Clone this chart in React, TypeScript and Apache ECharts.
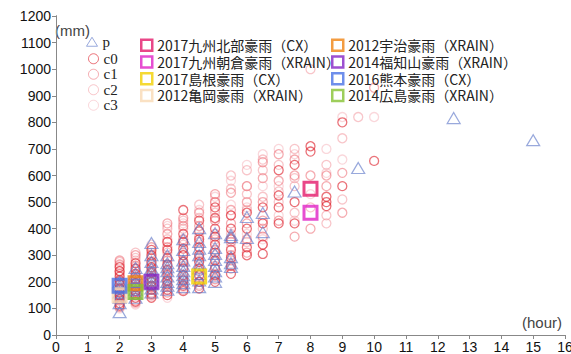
import React, { useEffect, useRef } from 'react';
import * as echarts from 'echarts';

// Columns: [hour, [mm values...]]
const pCols: [number, number[]][] = [
  [2, [86, 120, 140, 160, 175, 185, 200]],
  [2.5, [140, 155, 170, 185, 200, 215, 230, 252]],
  [3, [160, 175, 190, 205, 220, 235, 250, 275, 300, 346]],
  [3.5, [170, 185, 200, 220, 240, 255, 270, 300]],
  [4, [180, 195, 210, 225, 240, 260, 280, 320, 360]],
  [4.5, [180, 205, 230, 250, 270, 300, 325, 350, 402]],
  [5, [200, 220, 240, 260, 282, 305, 327, 383]],
  [5.5, [256, 270, 293, 368, 376]],
  [6, [365, 444]],
  [6.5, [387, 459]],
  [7.5, [540]],
  [9.5, [628]],
  [12.5, [816]],
  [15, [733]],
];
const c0Cols: [number, number[]][] = [
  [2, [110, 120, 135, 150, 160, 175, 190, 205, 220, 240, 255]],
  [2.5, [125, 140, 150, 165, 180, 195, 210, 230, 250, 270]],
  [3, [140, 155, 170, 185, 200, 215, 235, 255, 275, 300, 320]],
  [3.5, [150, 170, 190, 205, 225, 245, 265, 290, 320, 350]],
  [4, [165, 185, 205, 225, 250, 275, 300, 325, 350, 380, 470]],
  [4.5, [175, 200, 225, 250, 275, 300, 330, 360, 390, 430]],
  [5, [200, 225, 250, 280, 310, 340, 370, 400, 440, 480]],
  [5.5, [230, 260, 290, 320, 360, 400, 450]],
  [6, [300, 330, 400, 460]],
  [6.5, [305, 340, 420, 480]],
  [7, [420, 480, 525, 620]],
  [7.5, [420, 500, 640]],
  [8, [690, 710]],
  [8.5, [485, 500, 520]],
  [9, [560, 800]],
  [10, [655]],
];
const c1Cols: [number, number[]][] = [
  [2, [105, 130, 145, 170, 200, 230, 265, 280]],
  [2.5, [130, 160, 190, 220, 260, 300]],
  [3, [150, 180, 210, 250, 290, 330]],
  [3.5, [160, 200, 240, 280, 330, 380, 420]],
  [4, [170, 210, 260, 310, 360, 410, 440]],
  [4.5, [185, 240, 290, 350, 410, 460]],
  [5, [210, 260, 320, 380, 430, 500, 530]],
  [5.5, [250, 300, 350, 420, 470, 535]],
  [6, [310, 360, 420, 500, 560]],
  [6.5, [370, 430, 500, 590, 650]],
  [7, [430, 580, 680]],
  [7.5, [370, 600, 660]],
  [8, [400, 600]],
  [8.5, [560, 600]],
  [9, [460, 610]],
  [10, [930]],
];
const c2Cols: [number, number[]][] = [
  [2, [115, 150, 190, 240, 275]],
  [2.5, [120, 180, 240, 290, 310]],
  [3, [160, 230, 270, 310]],
  [3.5, [180, 260, 310, 360, 400]],
  [4, [190, 280, 340, 400, 430]],
  [4.5, [200, 280, 370, 440, 490]],
  [5, [230, 300, 360, 460, 500]],
  [5.5, [280, 380, 450, 550, 600]],
  [6, [350, 470, 530, 620]],
  [6.5, [340, 400, 520, 620, 660]],
  [7, [500, 540, 640]],
  [7.5, [460, 560, 590, 700]],
  [8, [480, 1000]],
  [8.5, [420, 450, 640]],
  [9, [510, 740]],
  [9.5, [820]],
];
const c3Cols: [number, number[]][] = [
  [2, [100, 140, 210, 260]],
  [2.5, [115, 200, 280]],
  [3, [145, 240, 340]],
  [3.5, [140, 230, 350, 410]],
  [4, [180, 300, 420]],
  [4.5, [190, 320, 470]],
  [5, [220, 350, 470, 520]],
  [5.5, [270, 330, 490, 580]],
  [6, [380, 480, 560, 640]],
  [6.5, [360, 450, 560, 680]],
  [7, [450, 560, 700]],
  [7.5, [430, 680]],
  [8, [530]],
  [8.5, [610, 700]],
  [9, [660, 820]],
  [10, [820]],
];

const eventNames = [
  '2017九州北部豪雨（CX）',
  '2017九州朝倉豪雨（XRAIN）',
  '2017島根豪雨（CX）',
  '2012亀岡豪雨（XRAIN）',
  '2012宇治豪雨（XRAIN）',
  '2014福知山豪雨（XRAIN）',
  '2016熊本豪雨（CX）',
  '2014広島豪雨（XRAIN）',
];
const eventPoints: [number, number][] = [
  [8, 550],
  [8, 460],
  [4.5, 220],
  [2, 150],
  [2.5, 195],
  [3, 200],
  [2, 185],
  [2.5, 162],
];
const eventColors = ['#e3196a', '#e022c6', '#f2d000', '#f9d9b4', '#f08312', '#8424c4', '#4a72e6', '#86c232'];

const xTicks = { min: 0, max: 16, interval: 1 };
const yTicks = { min: 0, max: 1200, interval: 100 };

const flat = (cols: [number, number[]][]) => cols.flatMap(([x, ys]) => ys.map((y) => [x, y]));

export default function App() {
  const ref = useRef<HTMLDivElement>(null);
  useEffect(() => {
    const chart = echarts.init(ref.current!, null, { renderer: 'svg' });
    const circle = (name: string, cols: [number, number[]][], color: string) => ({
      name,
      type: 'scatter',
      symbol: 'circle',
      symbolSize: 9,
      data: flat(cols),
      itemStyle: { color: 'rgba(0,0,0,0)', borderColor: color, borderWidth: 1.3 },
    });
    const series: any[] = [
      circle('c3', c3Cols, 'rgba(244,165,172,0.55)'),
      circle('c2', c2Cols, 'rgba(240,135,145,0.6)'),
      circle('c1', c1Cols, 'rgba(236,95,105,0.65)'),
      circle('c0', c0Cols, 'rgba(222,35,45,0.8)'),
      {
        name: 'p',
        type: 'scatter',
        symbol: 'triangle',
        symbolSize: [13, 11],
        data: flat(pCols),
        itemStyle: { color: 'rgba(0,0,0,0)', borderColor: 'rgba(95,120,200,0.8)', borderWidth: 1.2 },
      },
      ...eventNames.map((name, i) => ({
        name,
        type: 'scatter',
        symbol: 'rect',
        symbolSize: 13,
        data: [eventPoints[i]],
        itemStyle: { color: 'rgba(0,0,0,0)', borderColor: eventColors[i], borderWidth: 3 },
        z: 5,
      })),
    ];
    const cjk = '"Noto Sans CJK JP", sans-serif';
    const axisFont = '"Liberation Sans", Arial';
    chart.setOption({
      animation: false,
      backgroundColor: '#fff',
      grid: { left: 56, right: 6, top: 16, bottom: 19, containLabel: false, outerBoundsMode: 'none' },
      xAxis: [
        {
          type: 'value',
          ...xTicks,
          position: 'bottom',
          axisLine: { show: true, lineStyle: { color: '#666', width: 1 } },
          axisTick: { show: true, length: 4, lineStyle: { color: '#666' } },
          axisLabel: { color: '#111', fontSize: 14, fontFamily: axisFont, margin: 5, formatter: (v: number) => String(v) },
          splitLine: { show: false },
        },
        {
          type: 'value',
          ...xTicks,
          position: 'top',
          axisLine: { show: true, lineStyle: { color: '#888', width: 1 } },
          axisTick: { show: true, inside: true, length: 4, lineStyle: { color: '#888' } },
          axisLabel: { show: false },
          splitLine: { show: false },
        },
      ],
      yAxis: [
        {
          type: 'value',
          ...yTicks,
          position: 'left',
          axisLine: { show: true, lineStyle: { color: '#666', width: 1 } },
          axisTick: { show: true, length: 4, lineStyle: { color: '#666' } },
          axisLabel: { color: '#111', fontSize: 14, fontFamily: axisFont, margin: 5, formatter: (v: number) => String(v) },
          splitLine: { show: false },
        },
        {
          type: 'value',
          ...yTicks,
          position: 'right',
          axisLine: { show: true, lineStyle: { color: '#888', width: 1 } },
          axisTick: { show: true, inside: true, length: 4, lineStyle: { color: '#888' } },
          axisLabel: { show: false },
          splitLine: { show: false },
        },
      ],
      legend: [
        {
          data: ['p'],
          orient: 'vertical',
          left: 86,
          top: 34,
          padding: 0,
          itemWidth: 11,
          itemHeight: 9,
          itemGap: 0,
          selectedMode: false,
          itemStyle: { borderWidth: 1 },
          textStyle: { fontFamily: '"Liberation Serif", serif', fontSize: 15, color: '#222', lineHeight: 15.5 },
        },
        {
          data: ['c0', 'c1', 'c2', 'c3'],
          orient: 'vertical',
          left: 88,
          top: 51,
          padding: 0,
          itemWidth: 10,
          itemHeight: 10,
          itemGap: 0,
          selectedMode: false,
          itemStyle: { borderWidth: 1 },
          textStyle: { fontFamily: '"Liberation Serif", serif', fontSize: 15, color: '#222', lineHeight: 15.5 },
        },
        {
          data: eventNames.slice(0, 4),
          orient: 'vertical',
          left: 140,
          top: 37,
          padding: 0,
          itemWidth: 11,
          itemHeight: 11,
          itemGap: 0,
          selectedMode: false,
          itemStyle: { borderWidth: 2.5 },
          textStyle: { fontFamily: cjk, fontSize: 14, color: '#222', lineHeight: 16.7 },
        },
        {
          data: eventNames.slice(4),
          orient: 'vertical',
          left: 331,
          top: 37,
          padding: 0,
          itemWidth: 11,
          itemHeight: 11,
          itemGap: 0,
          selectedMode: false,
          itemStyle: { borderWidth: 2.5 },
          textStyle: { fontFamily: cjk, fontSize: 14, color: '#222', lineHeight: 16.7 },
        },
      ],
      graphic: [
        {
          type: 'text',
          left: 55,
          top: 23,
          style: { text: '(mm)', fontSize: 15, fill: '#444', fontFamily: axisFont },
        },
        {
          type: 'text',
          right: 9,
          top: 315,
          style: { text: '(hour)', fontSize: 15, fill: '#444', fontFamily: axisFont },
        },
      ],
      series,
    });
    return () => chart.dispose();
  }, []);
  return (
    <div
      ref={ref}
      style={{ position: 'fixed', left: 0, top: 0, width: 571, height: 354, background: '#fff' }}
    />
  );
}
